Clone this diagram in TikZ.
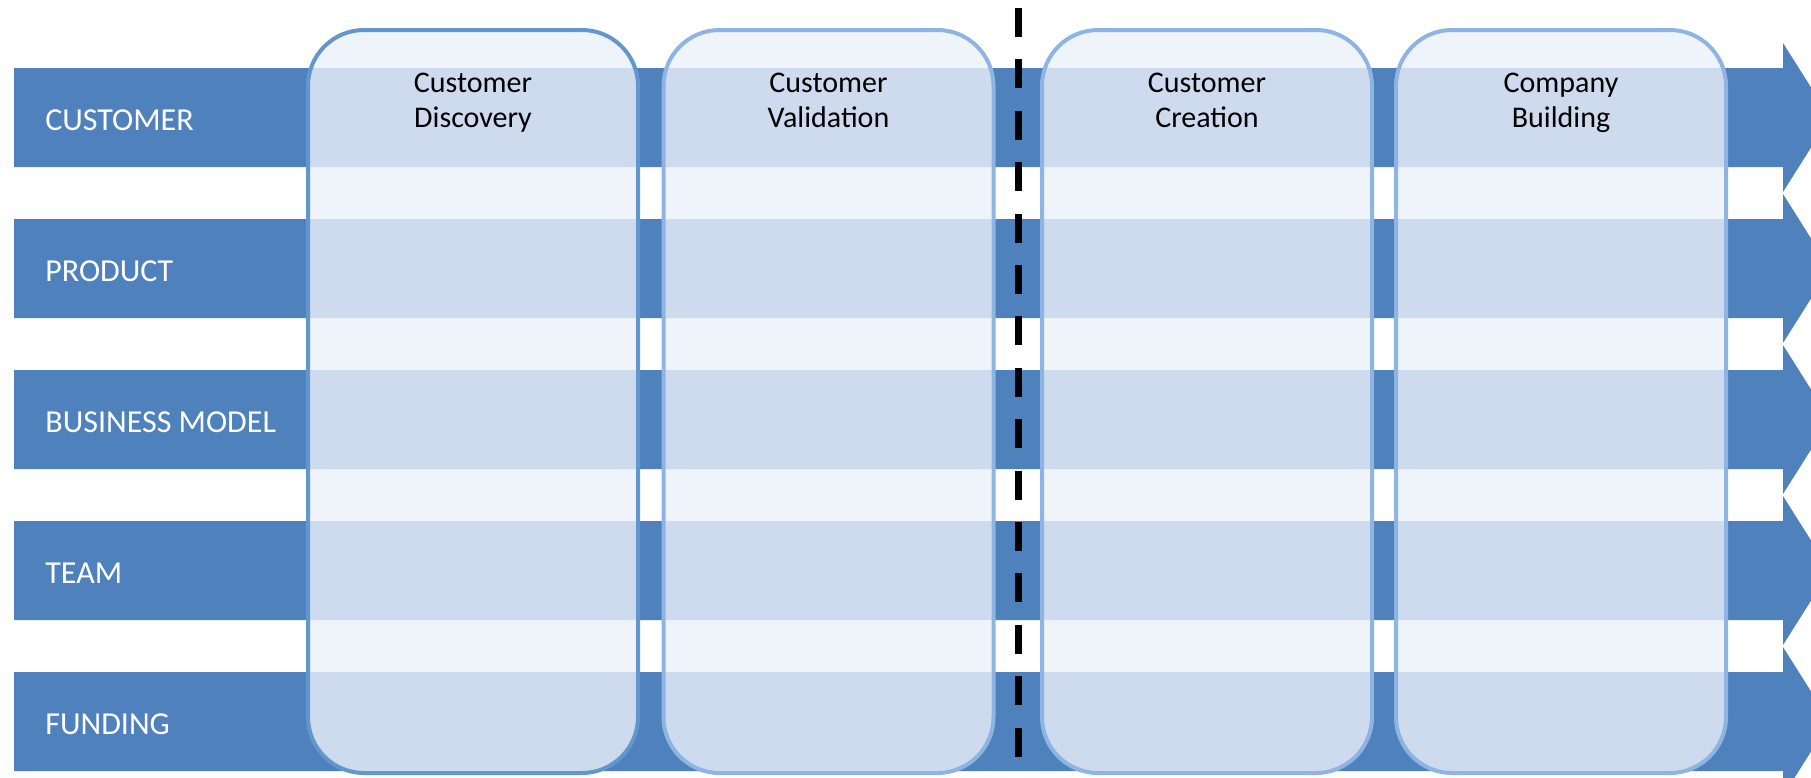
\documentclass[tikz,border=0pt]{standalone}
\usepackage{fontspec}
\setmainfont{Carlito}
\usetikzlibrary{positioning}
\definecolor{rowblue}{RGB}{79,129,189}
\definecolor{stagefill}{RGB}{235,240,249}
\definecolor{stageedge}{RGB}{141,180,226}
\definecolor{firstedge}{RGB}{98,151,206}

\begin{document}
\begin{tikzpicture}[x=0.5pt, y=-0.5pt,
    stage/.style={rectangle, rounded corners=28pt, draw=stageedge, line width=2pt,
      fill=stagefill, fill opacity=0.82, minimum width=165pt, minimum height=371.5pt},
    rowlabel/.style={anchor=base west, text=white, inner sep=0pt,
      font=\fontsize{16}{18}\selectfont},
    stagename/.style={align=center, text=black, inner sep=0pt, anchor=north,
      font=\fontsize{15}{17.5}\selectfont},
    gate/.style={line width=3.5pt, dash pattern=on 14.5pt off 11.2pt}]
  \useasboundingbox (0,0) rectangle (1811,777);

  % the five rows
  \foreach \name/\txt [count=\i from 0] in {cust/CUSTOMER, prod/PRODUCT,
      biz/BUSINESS MODEL, team/TEAM, fund/FUNDING} {
    \pgfmathsetmacro{\rt}{68+151*\i}
    \pgfmathsetmacro{\rb}{\rt+99}
    \fill[rowblue] (14,\rt) -- (1783,\rt) -- (1783,{\rt-25}) -- (1830,{\rt+49.5})
      -- (1783,{\rb+25}) -- (1783,\rb) -- (14,\rb) -- cycle;
    \node[rowlabel] (\name) at (45,{\rt+62}) {\txt};
  }

  % the four stages
  \node[stage, draw=firstedge] (disc) at (473,401.5) {};
  \node[stage] (valid) at (828.5,401.5) {};
  \node[stage] (creat) at (1207,401.5) {};
  \node[stage] (build) at (1561,401.5) {};

  \node[stagename, below=22.5pt of disc.north] (discname) {Customer\\Discovery};
  \node[stagename, below=22.5pt of valid.north] (validname) {Customer\\Validation};
  \node[stagename, below=22.5pt of creat.north] (creatname) {Customer\\Creation};
  \node[stagename, below=22.5pt of build.north] (buildname) {Company\\Building};

  % dashed split
  \coordinate (gtop) at (1018,8);
  \coordinate (gbot) at (1018,757);
  \draw[gate] (gtop) -- (gbot);
\end{tikzpicture}
\end{document}
